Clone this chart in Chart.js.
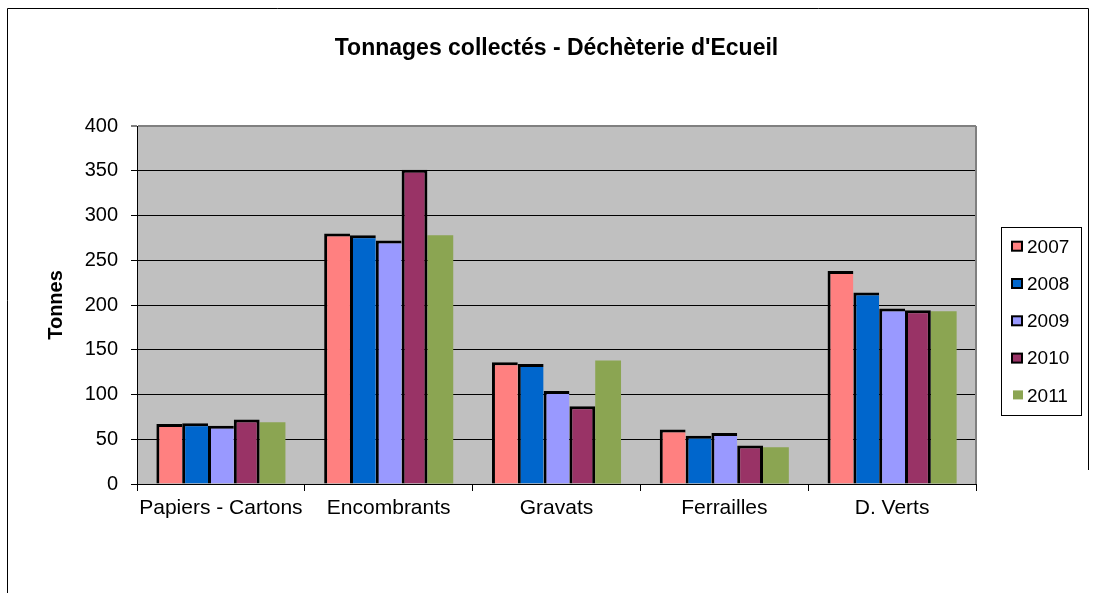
<!DOCTYPE html>
<html><head><meta charset="utf-8">
<script src="https://cdn.jsdelivr.net/npm/chart.js@4.4.1/dist/chart.umd.min.js"></script>
<style>html,body{margin:0;padding:0;background:#fff;overflow:hidden}</style>
</head><body>
<canvas id="c" width="1093" height="593"></canvas>
<script>
const categories = ['Papiers - Cartons', 'Encombrants', 'Gravats', 'Ferrailles', 'D. Verts'];
const years = ['2007', '2008', '2009', '2010', '2011'];
const values2007 = [67, 280, 136, 61, 238];
const values2008 = [68, 278, 134, 54, 214];
const values2009 = [65, 272, 104, 57, 196];
const values2010 = [72, 351, 87, 43, 194];
const values2011 = [69, 278, 138, 41, 193];
const yTicks = [0, 50, 100, 150, 200, 250, 300, 350, 400];
const titleText = "Tonnages collectés - Déchèterie d'Ecueil";
const yTitle = 'Tonnes';

const colors = ['#FF8080', '#0066CC', '#9999FF', '#993366', '#8BA552'];
const seriesValues = [values2007, values2008, values2009, values2010, values2011];
const FONT = '"Liberation Sans", Arial, sans-serif';

const borders = [
  {left: 3, top: 3, right: 0, bottom: 0},
  {left: 3, top: 3, right: 0, bottom: 0},
  {left: 3, top: 3, right: 0, bottom: 0},
  {left: 3, top: 3, right: 3, bottom: 0},
  0
];

const datasets = years.map((y, i) => ({
  label: y,
  data: seriesValues[i],
  backgroundColor: colors[i],
  borderColor: '#000',
  borderWidth: borders[i],
  borderSkipped: false,
  categoryPercentage: 1 / 1.3,
  barPercentage: 1
}));

const framePlugin = {
  id: 'frame',
  beforeDraw(chart) {
    const ctx = chart.ctx, a = chart.chartArea;
    ctx.save();
    ctx.fillStyle = '#fff';
    ctx.fillRect(0, 0, chart.width, chart.height);
    ctx.strokeStyle = '#000';
    ctx.lineWidth = 1;
    ctx.beginPath();
    ctx.moveTo(7.5, 593); ctx.lineTo(7.5, 8.5); ctx.lineTo(1088.5, 8.5); ctx.lineTo(1088.5, 470);
    ctx.stroke();
    ctx.fillStyle = '#C0C0C0';
    ctx.fillRect(a.left, a.top, a.right - a.left, a.bottom - a.top);
    ctx.restore();
  },
  beforeDatasetsDraw(chart) {
    const ctx = chart.ctx, a = chart.chartArea;
    ctx.save();
    ctx.strokeStyle = '#808080';
    ctx.lineWidth = 2;
    ctx.beginPath();
    ctx.moveTo(a.right, a.top);
    ctx.lineTo(a.right, a.bottom);
    ctx.stroke();
    ctx.restore();
  },
  afterDraw(chart) {
    const ctx = chart.ctx;
    ctx.save();
    ctx.strokeStyle = '#000';
    ctx.lineWidth = 1;
    ctx.strokeRect(1001.5, 227.5, 80, 188);
    ctx.font = '19px ' + FONT;
    ctx.textBaseline = 'alphabetic';
    ctx.textAlign = 'left';
    chart.data.datasets.forEach((ds, i) => {
      const cy = 245.7 + i * 37.3;
      if (ds.borderWidth) {
        ctx.fillStyle = '#000';
        ctx.fillRect(1011, cy - 5, 12, 11);
        ctx.fillStyle = ds.backgroundColor;
        ctx.fillRect(1013, cy - 3, 8, 7);
      } else {
        ctx.fillStyle = ds.backgroundColor;
        ctx.fillRect(1013, cy - 4.5, 10, 9);
      }
      ctx.fillStyle = '#000';
      ctx.fillText(ds.label, 1027, cy + 6.8);
    });
    ctx.restore();
  }
};

new Chart(document.getElementById('c'), {
  type: 'bar',
  data: { labels: categories, datasets },
  plugins: [framePlugin],
  options: {
    responsive: false,
    animation: false,
    devicePixelRatio: 1,
    layout: { padding: { left: 0, top: 10, right: 117, bottom: 0 } },
    plugins: {
      legend: { display: false },
      tooltip: { enabled: false },
      title: {
        display: true,
        text: titleText,
        fullSize: false,
        color: '#000',
        font: { family: FONT, size: 23, weight: 'bold' },
        padding: { top: 24.7, bottom: 63.7 }
      }
    },
    scales: {
      x: {
        afterFit(s) { s.height = 109; },
        grid: { offset: true, drawOnChartArea: false, drawTicks: true, tickLength: 7, color: '#000' },
        border: { display: true, color: '#000', width: 1 },
        ticks: { color: '#000', padding: 5, font: { family: FONT, size: 21 }, maxRotation: 0, autoSkip: false }
      },
      y: {
        min: 0, max: 400,
        afterFit(s) { s.width = 137; },
        afterBuildTicks(s) { s.ticks = yTicks.map(v => ({ value: v })); },
        grid: {
          color: c => (c.tick && c.tick.value === 400 ? '#808080' : '#000'),
          lineWidth: c => (c.tick && c.tick.value === 400 ? 2 : 1),
          drawTicks: true, tickLength: 6
        },
        border: { display: true, color: '#000', width: 1 },
        ticks: { color: '#000', padding: 13, font: { family: FONT, size: 20 } },
        title: {
          display: true, text: yTitle, color: '#000',
          font: { family: FONT, size: 20, weight: 'bold' },
          padding: { top: 44, bottom: 0 }
        }
      }
    }
  }
});
</script>
</body></html>
